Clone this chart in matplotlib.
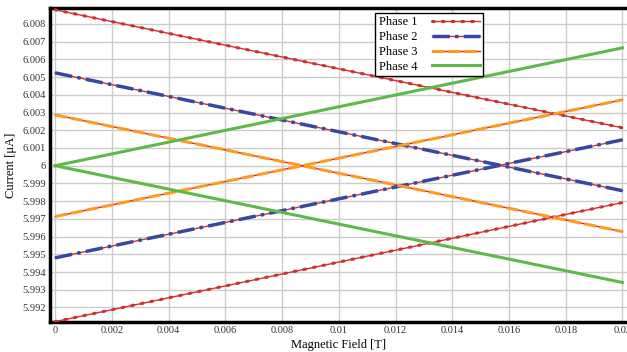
import matplotlib
matplotlib.use("Agg")
import matplotlib.pyplot as plt
from matplotlib.lines import Line2D

field = [0.0, 0.02]
phase1_down = [6.0088, 6.00214]
phase1_up = [5.9912, 5.99792]
phase2_down = [6.00524, 5.99859]
phase2_up = [5.99480, 6.00146]
phase3_down = [6.00287, 5.99628]
phase3_up = [5.99713, 6.00372]
phase4_up = [6.0, 6.00665]
phase4_down = [6.0, 5.99341]

xticks = [0, 0.002, 0.004, 0.006, 0.008, 0.01, 0.012, 0.014, 0.016, 0.018, 0.02]
xticklabels = ["0", "0.002", "0.004", "0.006", "0.008", "0.01", "0.012", "0.014", "0.016", "0.018", "0.02"]
yticks = [5.992, 5.993, 5.994, 5.995, 5.996, 5.997, 5.998, 5.999, 6.0, 6.001, 6.002, 6.003, 6.004, 6.005, 6.006, 6.007, 6.008]
yticklabels = ["5.992", "5.993", "5.994", "5.995", "5.996", "5.997", "5.998", "5.999", "6", "6.001", "6.002", "6.003", "6.004", "6.005", "6.006", "6.007", "6.008"]

plt.rcParams['font.family'] = ['Liberation Serif', 'DejaVu Serif']

RED = '#d03030'
BLUE = '#3848a0'
ORANGE = '#ff9a22'
GREEN = '#5cbb48'

fig = plt.figure(figsize=(6.27, 3.52), dpi=100)
ax = fig.add_axes([50/627, 30/352, 577/627, 314/352])

def draw(y, style):
    if style == 1:
        ax.plot(field, y, color=RED, lw=1.0, solid_capstyle='butt', zorder=3)
        ax.plot(field, y, color=RED, lw=2.2, linestyle=(0, (0.6, 2.6)), dash_capstyle='round', zorder=4)
    elif style == 2:
        ax.plot(field, y, color=RED, lw=1.0, zorder=3)
        ax.plot(field, y, color=BLUE, lw=2.5, linestyle=(0, (5, 1.5, 1, 1.5)), zorder=4)
    elif style == 3:
        ax.plot(field, y, color=RED, lw=1.0, zorder=3)
        ax.plot(field, y, color=ORANGE, lw=2.2, linestyle=(0, (4, 1.2)), zorder=4)
    else:
        ax.plot(field, y, color=GREEN, lw=2.2, zorder=4)

draw(phase1_down, 1); draw(phase1_up, 1)
draw(phase2_down, 2); draw(phase2_up, 2)
draw(phase3_down, 3); draw(phase3_up, 3)
draw(phase4_up, 4); draw(phase4_down, 4)

ax.set_xlim(-0.00018, 0.02016)
ax.set_ylim(5.99118, 6.0089)
ax.set_xticks(xticks)
ax.set_xticklabels(xticklabels)
ax.set_yticks(yticks)
ax.set_yticklabels(yticklabels)
ax.tick_params(axis='both', length=0, labelsize=7.5, colors='#333333', pad=3)
ax.grid(True, color='#cccccc', lw=1)
ax.set_axisbelow(True)
for side in ['top', 'left', 'bottom']:
    ax.spines[side].set_linewidth(2.5)
    ax.spines[side].set_color('black')
ax.spines['right'].set_visible(False)

ax.set_xlabel('Magnetic Field [T]', fontsize=9, labelpad=3)
ax.set_ylabel('Current [μA]', fontsize=9, labelpad=4)

handles = [
    (Line2D([], [], color=RED, lw=1.0), Line2D([], [], color=RED, lw=2.2, linestyle=(0, (0.6, 2.6)), dash_capstyle='round')),
    (Line2D([], [], color=RED, lw=1.0), Line2D([], [], color=BLUE, lw=2.5, linestyle=(0, (5, 1.5, 1, 1.5)))),
    (Line2D([], [], color=RED, lw=1.0), Line2D([], [], color=ORANGE, lw=2.2, linestyle=(0, (4, 1.2)))),
    Line2D([], [], color=GREEN, lw=2.2),
]
leg = ax.legend(handles, ['Phase 1', 'Phase 2', 'Phase 3', 'Phase 4'],
                loc='upper left', bbox_to_anchor=(0.563, 0.985), markerfirst=False,
                fontsize=9, frameon=True, fancybox=False, edgecolor='black',
                framealpha=1, borderpad=0.3, labelspacing=0.22, handlelength=3.8,
                handletextpad=1.2, borderaxespad=0)
leg.get_frame().set_linewidth(1.0)

fig.savefig('out.png', dpi=100)
